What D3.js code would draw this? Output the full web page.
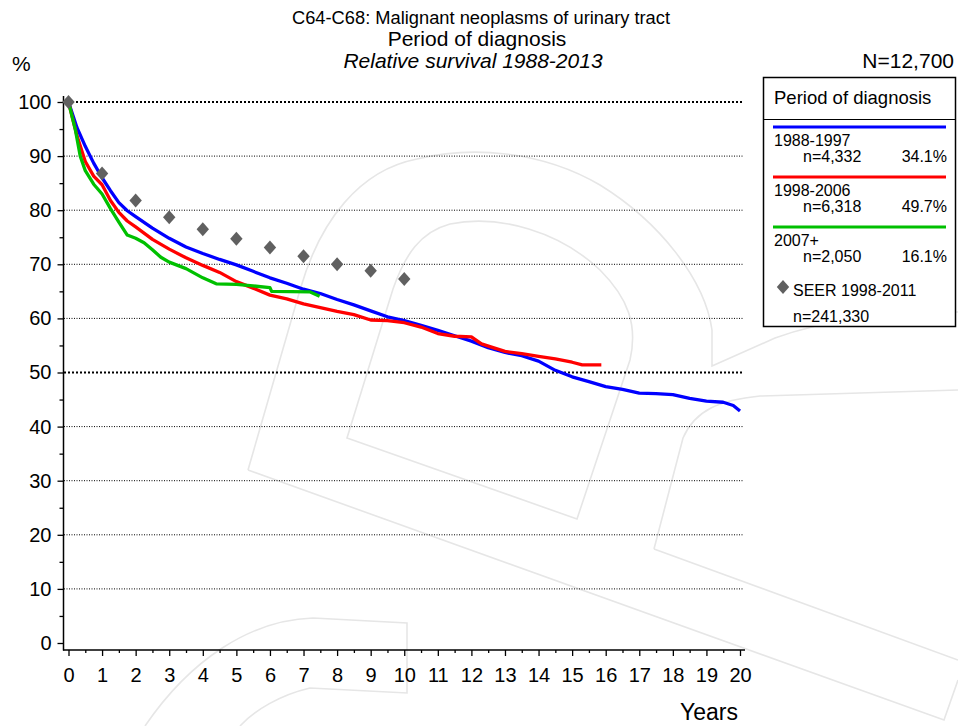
<!DOCTYPE html>
<html>
<head>
<meta charset="utf-8">
<script src="https://cdn.jsdelivr.net/npm/d3@7"></script>
<style>
  body { margin: 0; background: #fff; }
  svg { display: block; font-family: "Liberation Sans", Arial, sans-serif; }
  .wm { fill: none; stroke: #e6e6e6; stroke-width: 1.6; }
</style>
</head>
<body>
<svg width="958" height="726"></svg>
<script>
// --- data ---
var blueT = [0,0.25,0.5,0.75,1,1.25,1.5,1.75,2,2.5,3,3.5,4,4.5,5,5.5,6,6.5,7,7.5,8,8.5,9,9.5,10,10.5,11,11.5,12,12.5,13,13.5,14,14.5,15,15.5,16,16.5,17,17.5,18,18.5,19,19.5,19.8,20];
var blueV = [100,95.3,91.8,88.7,86.0,83.6,81.4,79.9,78.8,76.7,74.8,73.2,72.0,70.9,69.9,68.7,67.5,66.5,65.4,64.6,63.5,62.5,61.4,60.3,59.6,58.7,57.8,56.8,55.8,54.6,53.7,53.1,52.1,50.4,49.2,48.3,47.4,46.9,46.2,46.1,45.9,45.2,44.7,44.5,43.9,42.9];

var redT = [0,0.25,0.5,0.75,1,1.25,1.5,1.75,2,2.5,3,3.5,4,4.5,5,5.5,6,6.5,7,7.5,8,8.5,9,9.5,10,10.5,11,11.5,12,12.3,12.6,13,13.5,14,14.5,15,15.3,15.87];
var redV = [100,93.8,89.0,86.3,84.7,81.8,79.6,78.0,76.9,74.6,72.8,71.2,69.8,68.5,66.8,65.6,64.3,63.6,62.7,62.0,61.3,60.7,59.7,59.6,59.2,58.4,57.2,56.7,56.6,55.3,54.7,53.9,53.5,53.0,52.5,51.9,51.4,51.4];

var greenT = [0,0.2,0.35,0.5,0.75,1,1.25,1.5,1.75,2,2.25,2.5,2.75,3,3.5,4,4.4,5,6,6.05,7.2,7.48];
var greenV = [100,95,90,87.3,84.8,83.0,80.3,77.8,75.4,74.8,74.0,72.7,71.3,70.4,69.2,67.5,66.4,66.3,65.7,65.0,64.9,64.1];

var seerT = [0,1,2,3,4,5,6,7,8,9,10];
var seerV = [100,86.8,81.8,78.7,76.5,74.7,73.1,71.5,70.0,68.8,67.3];

var groupNames = ["1988-1997", "1998-2006", "2007+"];
var groupN = ["n=4,332", "n=6,318", "n=2,050"];
var groupPct = ["34.1%", "49.7%", "16.1%"];
var groupColors = ["#0000ff", "#ff0000", "#00c000"];

var xTicks = d3.range(0, 21);
var yTicks = d3.range(0, 101, 10);

var svg = d3.select("svg");

// faint logo watermark in the background
var wm = svg.append("g");
[
  "M248,470 L300,290 C320,220 360,170 417,159 C470,146 540,150 600,185 C660,222 705,280 712,330 L712,366 L775,338 C830,318 900,312 958,312",
  "M248,470 L944,720 L958,680",
  "M347,438 L393,289 C405,255 420,232 450,224 C500,214 560,232 600,270 C628,298 638,325 630,360 L577,519 Z",
  "M654,549 L683,438 C695,410 720,400 760,396 L958,390",
  "M654,549 L958,660",
  "M145,726 C190,660 250,620 313,618 L407,623 L407,693 L310,688 C280,695 255,710 240,726"
].forEach(function(d) { wm.append("path").attr("class", "wm").attr("d", d); });

var x = d3.scaleLinear().domain([0, 20]).range([68.5, 740]);
var y = d3.scaleLinear().domain([0, 100]).range([643, 102]);

// grid lines
svg.append("g").selectAll("line")
    .data(yTicks.filter(function(v) { return v > 0; }))
    .enter().append("line")
    .attr("x1", 64).attr("x2", 744)
    .attr("y1", function(d) { return y(d); })
    .attr("y2", function(d) { return y(d); })
    .attr("stroke", "#000")
    .attr("stroke-width", function(d) { return (d === 100 || d === 50) ? 2.2 : 1; })
    .attr("stroke-dasharray", function(d) { return (d === 100 || d === 50) ? "2,2" : "1,1.5"; });

// y axis
var yAxis = svg.append("g")
    .attr("transform", "translate(63.5,0)")
    .call(d3.axisLeft(y).tickValues(yTicks).tickSize(6).tickPadding(6));
yAxis.select(".domain").remove();
yAxis.selectAll("text").attr("font-size", 20).attr("fill", "#000").attr("font-family", null);
yAxis.selectAll("line").attr("stroke-width", 1.3);
var yMinor = svg.append("g")
    .attr("transform", "translate(63.5,0)")
    .call(d3.axisLeft(y).tickValues(d3.range(5, 100, 10)).tickSize(4).tickFormat(""));
yMinor.select(".domain").remove();
yMinor.selectAll("line").attr("stroke-width", 1.3);

// x axis
var xAxis = svg.append("g")
    .attr("transform", "translate(0,650)")
    .call(d3.axisBottom(x).tickValues(xTicks).tickSize(6).tickPadding(12));
xAxis.select(".domain").remove();
xAxis.selectAll("text").attr("font-size", 20).attr("fill", "#000").attr("font-family", null);
xAxis.selectAll("line").attr("stroke-width", 1.3);
var xMinor = svg.append("g")
    .attr("transform", "translate(0,650)")
    .call(d3.axisBottom(x).tickValues(d3.range(0.5, 20, 1)).tickSize(3).tickFormat(""));
xMinor.select(".domain").remove();
xMinor.selectAll("line").attr("stroke-width", 1.3);

svg.append("line").attr("x1", 63.5).attr("x2", 63.5).attr("y1", 96).attr("y2", 650.5)
    .attr("stroke", "#000").attr("stroke-width", 1.5);
svg.append("line").attr("x1", 63).attr("x2", 745).attr("y1", 650).attr("y2", 650)
    .attr("stroke", "#000").attr("stroke-width", 1.5);

// survival curves
var line = d3.line()
    .x(function(d) { return x(d[0]); })
    .y(function(d) { return y(d[1]); });

var series = [
  { t: blueT, v: blueV, c: groupColors[0] },
  { t: redT, v: redV, c: groupColors[1] },
  { t: greenT, v: greenV, c: groupColors[2] }
];
series.forEach(function(s) {
    svg.append("path")
        .datum(d3.zip(s.t, s.v))
        .attr("fill", "none")
        .attr("stroke", s.c)
        .attr("stroke-width", 3.3)
        .attr("stroke-linejoin", "round")
        .attr("d", line);
});

// SEER diamonds
var diamond = {
  draw: function(context, size) {
    var w = 6.2, h = 7;
    context.moveTo(0, -h);
    context.lineTo(w, 0);
    context.lineTo(0, h);
    context.lineTo(-w, 0);
    context.closePath();
  }
};
svg.append("g").selectAll("path")
    .data(d3.zip(seerT, seerV))
    .enter().append("path")
    .attr("transform", function(d) { return "translate(" + x(d[0]) + "," + y(d[1]) + ")"; })
    .attr("d", d3.symbol().type(diamond))
    .attr("fill", "#606060");

// titles
svg.append("text").attr("x", 481).attr("y", 24).attr("text-anchor", "middle")
    .attr("font-size", 18.3).text("C64-C68: Malignant neoplasms of urinary tract");
svg.append("text").attr("x", 477).attr("y", 45.5).attr("text-anchor", "middle")
    .attr("font-size", 21).text("Period of diagnosis");
svg.append("text").attr("x", 473).attr("y", 68).attr("text-anchor", "middle")
    .attr("font-size", 21).attr("font-style", "italic").text("Relative survival 1988-2013");
svg.append("text").attr("x", 12).attr("y", 71).attr("font-size", 21).text("%");
svg.append("text").attr("x", 954).attr("y", 68).attr("text-anchor", "end")
    .attr("font-size", 21).text("N=12,700");
svg.append("text").attr("x", 738).attr("y", 720).attr("text-anchor", "end")
    .attr("font-size", 23).text("Years");

// legend
var lg = svg.append("g");
lg.append("rect").attr("x", 763.5).attr("y", 77.5).attr("width", 192).attr("height", 249)
    .attr("fill", "#fff").attr("stroke", "#000").attr("stroke-width", 1.5);
lg.append("line").attr("x1", 763.5).attr("x2", 955.5).attr("y1", 119.5).attr("y2", 119.5)
    .attr("stroke", "#000").attr("stroke-width", 1.2);
lg.append("text").attr("x", 774).attr("y", 104).attr("font-size", 18.5).text("Period of diagnosis");

groupNames.forEach(function(name, i) {
    var top = 127 + i * 50;
    lg.append("line").attr("x1", 773).attr("x2", 946).attr("y1", top).attr("y2", top)
        .attr("stroke", groupColors[i]).attr("stroke-width", 3);
    lg.append("text").attr("x", 774).attr("y", top + 19).attr("font-size", 16).text(name);
    lg.append("text").attr("x", 803).attr("y", top + 34.5).attr("font-size", 16).text(groupN[i]);
    lg.append("text").attr("x", 947).attr("y", top + 34.5).attr("text-anchor", "end")
        .attr("font-size", 16).text(groupPct[i]);
});
lg.append("path").attr("transform", "translate(783,287)")
    .attr("d", d3.symbol().type(diamond)).attr("fill", "#606060");
lg.append("text").attr("x", 793).attr("y", 296).attr("font-size", 16).text("SEER 1998-2011");
lg.append("text").attr("x", 793).attr("y", 322).attr("font-size", 16).text("n=241,330");
</script>
</body>
</html>
